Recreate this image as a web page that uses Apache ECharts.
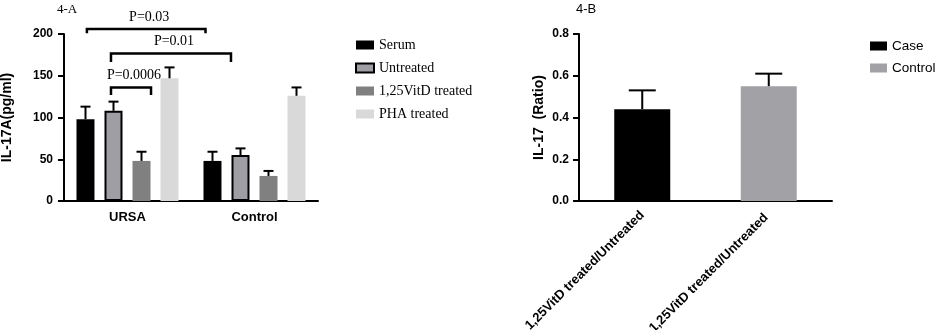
<!DOCTYPE html>
<html>
<head>
<meta charset="utf-8">
<script src="https://cdn.jsdelivr.net/npm/echarts@6/dist/echarts.min.js"></script>
<style>
  html, body { margin: 0; padding: 0; background: #fff; }
  #chart { width: 941px; height: 330px; }
</style>
</head>
<body>
<div id="chart"></div>
<script>
// 4-A data
const groupsA = ['URSA', 'Control']
const seriesNamesA = ['Serum', 'Untreated', '1,25VitD treated', 'PHA treated']
const serumMean = [98, 48]
const serumSd = [15, 11]
const untreatedMean = [108, 55]
const untreatedSd = [11, 8]
const vitdMean = [48, 30]
const vitdSd = [11, 6]
const phaMean = [147, 126]
const phaSd = [13, 10]
const yTicksA = [0, 50, 100, 150, 200]

// significance brackets: [fromGroup, fromSlot, toGroup, toSlot, barTop, legEnd]
const bracketLabels = ['P=0.03', 'P=0.01', 'P=0.0006']
const bracketSpans = [
  [0, 0.05, 1, -0.25, 206, 201],
  [0, 0.91, 1, 0.66, 176.5, 166.5],
  [0, 0.91, 0, 2.34, 136, 127]
]

// 4-B data
const groupsB = ['1,25VitD treated/Untreated', '1,25VitD treated/Untreated ']
const caseMean = [0.44, '-']
const caseSd = [0.09, '-']
const controlMean = ['-', 0.55]
const controlSd = ['-', 0.06]
const yTicksB = [0, 0.2, 0.4, 0.6, 0.8]

const chart = echarts.init(document.getElementById('chart'))

const SANS = 'Liberation Sans'
const SERIF = 'Liberation Serif'
const BAR_W_A = 18
const STEP_A = 28
const BAR_W_B = 56

const colorsA = ['#000000', '#9e9ea4', '#808080', '#d9d9d9']
const meansA = [serumMean, untreatedMean, vitdMean, phaMean]
const sdsA = [serumSd, untreatedSd, vitdSd, phaSd]

const axisStyle = { lineStyle: { color: '#000', width: 2 } }

const errorSeries = (name, means, sds, xAxisIndex, yAxisIndex, offset, capW) => ({
  name: name,
  type: 'custom',
  xAxisIndex: xAxisIndex,
  yAxisIndex: yAxisIndex,
  z: 5,
  clip: false,
  encode: { x: 0, y: 1 },
  data: means.map((m, i) => (m === '-' ? null : [i, m, m + sds[i]])).filter(d => d),
  renderItem: (params, api) => {
    const base = api.coord([api.value(0), api.value(1)])
    const top = api.coord([api.value(0), api.value(2)])
    const x = base[0] + offset
    return {
      type: 'group',
      children: [
        { type: 'line', shape: { x1: x, y1: base[1], x2: x, y2: top[1] }, style: { stroke: '#000', lineWidth: 2 } },
        { type: 'line', shape: { x1: x - capW / 2, y1: top[1], x2: x + capW / 2, y2: top[1] }, style: { stroke: '#000', lineWidth: 2 } }
      ]
    }
  }
})

const seriesA = seriesNamesA.map((name, i) => ({
  name: name,
  type: 'bar',
  xAxisIndex: 0,
  yAxisIndex: 0,
  barWidth: BAR_W_A,
  barGap: (10 / BAR_W_A * 100).toFixed(1) + '%',
  data: meansA[i],
  itemStyle: i === 1
    ? { color: colorsA[i], borderColor: '#000', borderWidth: 2 }
    : { color: colorsA[i] }
}))

const errorsA = seriesNamesA.map((name, i) =>
  errorSeries('err ' + name, meansA[i], sdsA[i], 0, 0, (i - 1.5) * STEP_A, 10))

const bracketSeries = {
  name: 'brackets',
  type: 'custom',
  xAxisIndex: 0,
  yAxisIndex: 0,
  z: 6,
  clip: false,
  encode: { x: 0, y: 4 },
  data: bracketSpans,
  renderItem: (params, api) => {
    const x1 = api.coord([api.value(0), 0])[0] + (api.value(1) - 1.5) * STEP_A
    const x2 = api.coord([api.value(2), 0])[0] + (api.value(3) - 1.5) * STEP_A
    const yTop = api.coord([0, api.value(4)])[1]
    const yLeg = api.coord([0, api.value(5)])[1]
    return {
      type: 'group',
      children: [
        {
          type: 'polyline',
          shape: { points: [[x1, yLeg], [x1, yTop], [x2, yTop], [x2, yLeg]] },
          style: { stroke: '#000', lineWidth: 2.5, fill: null }
        },
        {
          type: 'text',
          x: (x1 + x2) / 2 + 3,
          y: yTop - 12,
          style: {
            text: bracketLabels[params.dataIndex],
            font: '14px "Liberation Serif"',
            fill: '#000',
            align: 'center',
            verticalAlign: 'middle'
          }
        }
      ]
    }
  }
}

const seriesB = [
  {
    name: 'Case', type: 'bar', xAxisIndex: 1, yAxisIndex: 1,
    barWidth: BAR_W_B, barGap: '-100%', data: caseMean,
    itemStyle: { color: '#000000' }
  },
  {
    name: 'Control', type: 'bar', xAxisIndex: 1, yAxisIndex: 1,
    barWidth: BAR_W_B, barGap: '-100%', data: controlMean,
    itemStyle: { color: '#a1a1a6' }
  },
  errorSeries('err Case', caseMean, caseSd, 1, 1, 0, 27),
  errorSeries('err Control', controlMean, controlSd, 1, 1, 0, 27)
]

const option = {
  animation: false,
  backgroundColor: '#fff',
  title: [
    { text: '4-A', left: 52, top: -2, textStyle: { fontFamily: SERIF, fontWeight: 'normal', fontSize: 13, color: '#000' } },
    { text: '4-B', left: 571, top: -2, textStyle: { fontFamily: SANS, fontWeight: 'normal', fontSize: 13, color: '#000' } }
  ],
  legend: [
    {
      data: seriesNamesA,
      orient: 'vertical',
      left: 355,
      top: 38,
      padding: 0,
      icon: 'rect',
      itemWidth: 18,
      itemHeight: 9,
      itemGap: 9,
      textStyle: { fontFamily: SERIF, fontSize: 14, color: '#000' }
    },
    {
      data: ['Case', 'Control'],
      orient: 'vertical',
      left: 870,
      top: 39,
      padding: 0,
      icon: 'rect',
      itemWidth: 17,
      itemHeight: 9,
      itemGap: 8,
      textStyle: { fontFamily: SANS, fontSize: 13.5, color: '#000', width: 50, overflow: 'none' }
    }
  ],
  grid: [
    { left: 64, top: 34, width: 254, height: 167, outerBoundsMode: 'none' },
    { left: 579, top: 34, width: 253, height: 167, outerBoundsMode: 'none' }
  ],
  xAxis: [
    {
      gridIndex: 0,
      type: 'category',
      data: groupsA,
      axisLine: axisStyle,
      axisTick: { alignWithLabel: true, length: 6, lineStyle: { color: '#000', width: 2 } },
      axisLabel: { fontFamily: SANS, fontWeight: 'bold', fontSize: 13, color: '#000', margin: 10 }
    },
    {
      gridIndex: 1,
      type: 'category',
      data: groupsB,
      axisLine: axisStyle,
      axisTick: { alignWithLabel: true, length: 6, lineStyle: { color: '#000', width: 2 } },
      axisLabel: { fontFamily: SANS, fontWeight: 'bold', fontSize: 13, color: '#000', rotate: 45, margin: 12 }
    }
  ],
  yAxis: [
    {
      gridIndex: 0,
      type: 'value',
      min: yTicksA[0],
      max: yTicksA[yTicksA.length - 1],
      interval: yTicksA[1] - yTicksA[0],
      name: 'IL-17A(pg/ml)',
      nameLocation: 'middle',
      nameGap: 50,
      nameTextStyle: { fontFamily: SANS, fontWeight: 'bold', fontSize: 14, color: '#000' },
      splitLine: { show: false },
      axisLine: { show: true, lineStyle: { color: '#000', width: 2 } },
      axisTick: { show: true, length: 6, lineStyle: { color: '#000', width: 2 } },
      axisLabel: { fontFamily: SANS, fontWeight: 'bold', fontSize: 12, color: '#000', margin: 11 }
    },
    {
      gridIndex: 1,
      type: 'value',
      min: yTicksB[0],
      max: yTicksB[yTicksB.length - 1],
      interval: 0.2,
      name: 'IL-17  (Ratio)',
      nameLocation: 'middle',
      nameGap: 33,
      nameTextStyle: { fontFamily: SANS, fontWeight: 'bold', fontSize: 14, color: '#000' },
      splitLine: { show: false },
      axisLine: { show: true, lineStyle: { color: '#000', width: 2 } },
      axisTick: { show: true, length: 6, lineStyle: { color: '#000', width: 2 } },
      axisLabel: {
        fontFamily: SANS, fontWeight: 'bold', fontSize: 12, color: '#000', margin: 10,
        formatter: v => v.toFixed(1)
      }
    }
  ],
  series: [...seriesA, ...errorsA, bracketSeries, ...seriesB]
}

chart.setOption(option)
</script>
</body>
</html>
